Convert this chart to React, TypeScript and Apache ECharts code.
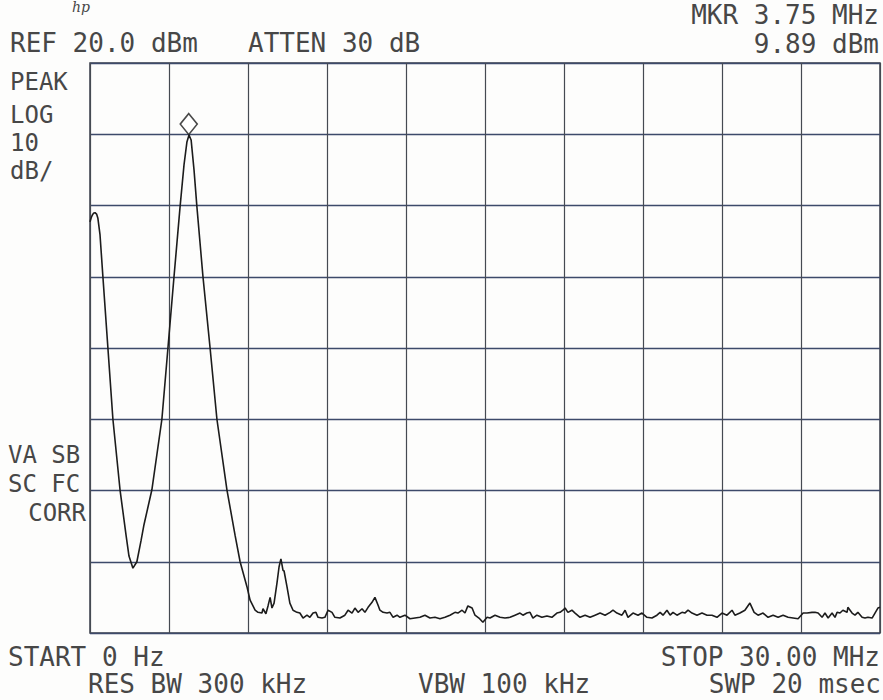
import React, { useEffect, useRef } from "react";
import * as echarts from "echarts";

// Frequency (MHz) of each trace point
const freqMHz: number[] = [
  0.0, 0.04, 0.08, 0.13, 0.19, 0.25, 0.3, 0.38, 0.49, 0.68, 0.87, 1.14, 1.37, 1.48, 1.63, 1.78,
  1.94, 2.05, 2.35, 2.73, 2.96, 3.19, 3.42, 3.57, 3.68, 3.76, 3.84, 3.95, 4.06, 4.29, 4.56, 4.82,
  5.2, 5.51, 5.7, 5.96, 6.08, 6.27, 6.38, 6.53, 6.57, 6.68, 6.76, 6.84, 6.91, 6.99, 7.1, 7.18,
  7.25, 7.33, 7.37, 7.48, 7.59, 7.71, 7.86, 7.97, 8.09, 8.24, 8.35, 8.47, 8.58, 8.66, 8.81,
  8.92, 9.04, 9.19, 9.3, 9.49, 9.68, 9.8, 9.95, 10.06, 10.18, 10.33, 10.44, 10.56, 10.71,
  10.82, 10.94, 11.01, 11.13, 11.28, 11.39, 11.51, 11.66, 11.77, 11.96, 12.15, 12.34, 12.53,
  12.72, 12.91, 13.1, 13.29, 13.48, 13.67, 13.86, 13.97, 14.13, 14.24, 14.35, 14.51, 14.62,
  14.77, 14.92, 15.08, 15.19, 15.38, 15.57, 15.76, 15.95, 16.14, 16.33, 16.44, 16.59, 16.71,
  16.82, 16.97, 17.16, 17.35, 17.54, 17.73, 17.85, 17.96, 18.04, 18.15, 18.3, 18.42, 18.61,
  18.8, 18.99, 19.18, 19.37, 19.56, 19.75, 19.86, 20.01, 20.2, 20.32, 20.43, 20.62, 20.81,
  20.96, 21.15, 21.34, 21.53, 21.65, 21.76, 21.91, 22.03, 22.14, 22.29, 22.48, 22.59, 22.71,
  22.86, 23.05, 23.24, 23.43, 23.62, 23.81, 24.0, 24.19, 24.38, 24.49, 24.68, 24.87, 25.06,
  25.22, 25.37, 25.56, 25.75, 25.94, 26.13, 26.32, 26.51, 26.7, 26.89, 27.08, 27.23, 27.42,
  27.53, 27.65, 27.8, 27.91, 28.03, 28.18, 28.29, 28.37, 28.48, 28.59, 28.75, 28.78, 28.94,
  29.05, 29.16, 29.32, 29.43, 29.54, 29.7, 29.81, 29.92, 30.0,
];

// Level (dBm) of each trace point
const levelDBm: number[] = [
  -2.3, -1.8, -1.4, -1.1, -1.0, -1.2, -1.8, -4.1, -10.0, -20.0, -30.0, -39.9, -46.3, -49.2,
  -50.9, -50.0, -47.0, -44.8, -39.9, -30.0, -20.0, -10.0, -0.2, 5.7, 8.9, 9.9, 9.2, 5.0, -0.2,
  -10.0, -20.0, -30.0, -39.9, -46.3, -50.0, -53.5, -55.4, -56.8, -57.1, -57.2, -56.6, -57.3,
  -56.2, -55.0, -56.5, -55.8, -53.0, -50.7, -49.6, -51.2, -51.3, -53.5, -55.8, -56.8, -57.1,
  -57.2, -57.9, -57.5, -57.8, -57.2, -57.1, -57.8, -57.9, -57.8, -56.8, -57.1, -57.8, -57.9,
  -57.5, -56.8, -57.2, -56.5, -57.1, -56.6, -57.1, -56.4, -55.7, -55.0, -56.1, -56.8, -57.1,
  -57.2, -57.1, -57.8, -57.5, -57.8, -57.5, -58.0, -57.9, -57.8, -57.5, -57.9, -57.8, -58.0,
  -57.8, -57.5, -57.1, -57.2, -56.8, -57.2, -56.2, -56.5, -57.5, -57.9, -58.5, -57.8, -57.9,
  -57.5, -57.8, -57.9, -57.8, -57.5, -57.2, -57.5, -57.2, -57.1, -57.9, -57.5, -57.8, -57.6,
  -57.8, -57.2, -57.1, -56.8, -56.5, -57.1, -56.8, -57.2, -57.8, -57.5, -57.8, -57.5, -57.2,
  -57.5, -57.1, -56.8, -57.2, -57.5, -56.8, -57.8, -57.2, -57.5, -57.2, -57.8, -57.9, -57.5,
  -57.1, -57.5, -56.8, -57.5, -57.1, -57.5, -57.1, -57.2, -56.8, -57.2, -57.5, -57.2, -57.5,
  -57.5, -57.8, -57.2, -57.5, -56.8, -57.5, -57.2, -56.8, -55.8, -57.1, -57.5, -57.2, -57.8,
  -57.5, -57.8, -57.5, -57.8, -57.9, -58.0, -57.2, -57.2, -57.1, -57.1, -57.2, -57.8, -57.2,
  -57.9, -57.2, -57.8, -57.1, -57.2, -56.8, -57.1, -56.4, -57.2, -57.5, -57.1, -57.8, -57.9,
  -57.8, -57.9, -57.2, -56.5, -56.4,
];

// Marker
const markerFreq = 3.75;
const markerLevel = 9.89;

// Axis scale
const freqStart = 0;
const freqStop = 30;
const freqDiv = 3;
const refLevel = 20;
const bottomLevel = -60;
const dbPerDiv = 10;

// Annotation texts
const topLeftTexts = ["REF 20.0 dBm", "ATTEN 30 dB"];
const topRightTexts = ["MKR 3.75 MHz", "9.89 dBm"];
const sideTexts = ["PEAK", "LOG", "10", "dB/"];
const sideLowTexts = ["VA SB", "SC FC", "CORR"];
const bottomTexts = ["START 0 Hz", "STOP 30.00 MHz", "RES BW 300 kHz", "VBW 100 kHz", "SWP 20 msec"];

const FONT = "'DejaVu Sans Mono', monospace";
const TXT = "#474747";

function txt(text: string, x: number, y: number, align: string = "left", size: number = 26) {
  return {
    type: "text",
    x,
    y,
    style: {
      text,
      fill: TXT,
      font: `${size}px ${FONT}`,
      textAlign: align,
      textVerticalAlign: "middle",
    },
  };
}

export default function App() {
  const ref = useRef<HTMLDivElement>(null);
  useEffect(() => {
    if (!ref.current) return;
    const chart = echarts.init(ref.current, undefined, { renderer: "svg" });
    const trace = freqMHz.map((f, i) => [f, levelDBm[i]]);
    chart.setOption({
      animation: false,
      backgroundColor: "#fdfdfc",
      grid: {
        left: 90,
        top: 63,
        width: 790,
        height: 570,
        show: true,
        borderColor: "#3a3f4a",
        borderWidth: 1.5,
      },
      xAxis: {
        type: "value",
        min: freqStart,
        max: freqStop,
        interval: freqDiv,
        axisLine: { show: false },
        axisTick: { show: false },
        axisLabel: { show: false },
        splitLine: { show: true, lineStyle: { color: "#454a52", width: 1.2 } },
      },
      yAxis: {
        type: "value",
        min: bottomLevel,
        max: refLevel,
        interval: dbPerDiv,
        axisLine: { show: false },
        axisTick: { show: false },
        axisLabel: { show: false },
        splitLine: { show: true, lineStyle: { color: "#3d4a6a", width: 1.4 } },
      },
      series: [
        {
          type: "line",
          data: trace,
          showSymbol: false,
          symbol: "none",
          lineStyle: { color: "#1c1c1c", width: 1.6 },
          z: 3,
        },
        {
          type: "scatter",
          data: [[markerFreq, markerLevel]],
          symbol: "diamond",
          symbolSize: [17, 21],
          symbolOffset: [0, -11],
          itemStyle: { color: "#ffffff", borderColor: "#1c1c1c", borderWidth: 1.6 },
          z: 4,
        },
      ],
      graphic: [
        {
          type: "text",
          x: 72,
          y: 0,
          style: { text: "hp", fill: TXT, font: "italic 14px 'DejaVu Serif', serif" },
        },
        txt(topLeftTexts[0], 10, 43),
        txt(topLeftTexts[1], 248, 43),
        txt(topRightTexts[0], 879, 15, "right"),
        txt(topRightTexts[1], 879, 44, "right"),
        txt(sideTexts[0], 10, 82, "left", 24),
        txt(sideTexts[1], 10, 115, "left", 24),
        txt(sideTexts[2], 10, 143, "left", 24),
        txt(sideTexts[3], 10, 171, "left", 24),
        txt(sideLowTexts[0], 8, 455, "left", 24),
        txt(sideLowTexts[1], 8, 484, "left", 24),
        txt(sideLowTexts[2], 86, 513, "right", 24),
        txt(bottomTexts[0], 8, 657),
        txt(bottomTexts[1], 880, 657, "right"),
        txt(bottomTexts[2], 88, 684),
        txt(bottomTexts[3], 418, 684),
        txt(bottomTexts[4], 881, 684, "right"),
      ],
    });
    return () => chart.dispose();
  }, []);
  return (
    <div
      ref={ref}
      style={{ position: "fixed", left: 0, top: 0, width: 883, height: 700 }}
    />
  );
}
